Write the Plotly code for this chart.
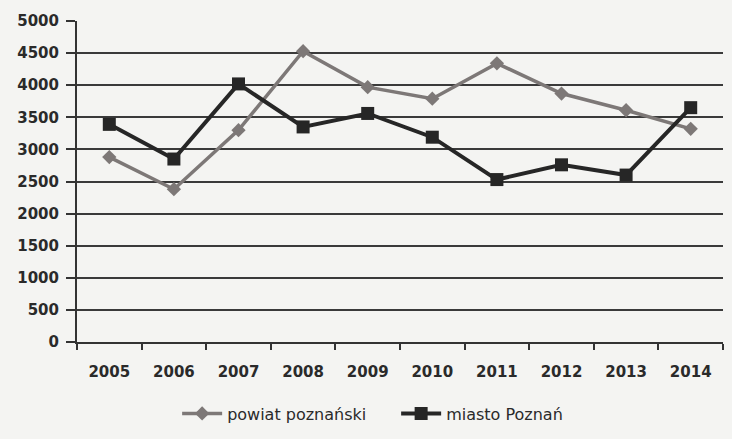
import plotly.graph_objects as go

years = ["2005", "2006", "2007", "2008", "2009", "2010", "2011", "2012", "2013", "2014"]
powiat = [2880, 2380, 3300, 4530, 3970, 3790, 4340, 3870, 3610, 3320]
miasto = [3390, 2850, 4020, 3350, 3560, 3190, 2530, 2760, 2600, 3650]
y_ticks = [0, 500, 1000, 1500, 2000, 2500, 3000, 3500, 4000, 4500, 5000]

fig = go.Figure()
fig.add_trace(go.Scatter(
    x=years, y=powiat, name="powiat poznański", mode="lines+markers",
    line=dict(color="#7d7877", width=3.5),
    marker=dict(symbol="diamond", size=11, color="#7d7877"),
))
fig.add_trace(go.Scatter(
    x=years, y=miasto, name="miasto Poznań", mode="lines+markers",
    line=dict(color="#262626", width=4),
    marker=dict(symbol="square", size=13, color="#262626"),
))

fig.update_layout(
    width=732, height=439,
    margin=dict(l=77, r=9, t=21, b=97, autoexpand=False),
    paper_bgcolor="#f4f4f2", plot_bgcolor="#f4f4f2",
    font=dict(family="DejaVu Sans", color="#2a2a2a"),
    showlegend=True,
    legend=dict(orientation="h", x=0.155, xanchor="left", y=-0.17, yanchor="top",
                font=dict(size=16, color="#2a2a2a"), bgcolor="rgba(0,0,0,0)",
                entrywidth=164, entrywidthmode="pixels", itemwidth=40),
)
fig.update_xaxes(
    type="category", showgrid=False, showline=True, linecolor="#333333", linewidth=2,
    ticks="outside", tickson="boundaries", ticklen=6, tickwidth=2, tickcolor="#333333",
    ticklabelstandoff=15, automargin=False,
    tickfont=dict(family="DejaVu Sans", size=15, color="#2a2a2a", weight="bold"),
    range=[-0.5, 9.5],
)
fig.update_yaxes(
    range=[0, 5000], tickvals=y_ticks, ticktext=[str(v) for v in y_ticks],
    showgrid=True, gridcolor="#3a3a3a", gridwidth=2,
    showline=True, linecolor="#333333", linewidth=2,
    ticks="outside", ticklen=9, tickwidth=2, tickcolor="#333333",
    ticklabelstandoff=4, automargin=False,
    zeroline=False,
    tickfont=dict(family="DejaVu Sans", size=15, color="#2a2a2a", weight="bold"),
)

fig.write_html("out.html")
